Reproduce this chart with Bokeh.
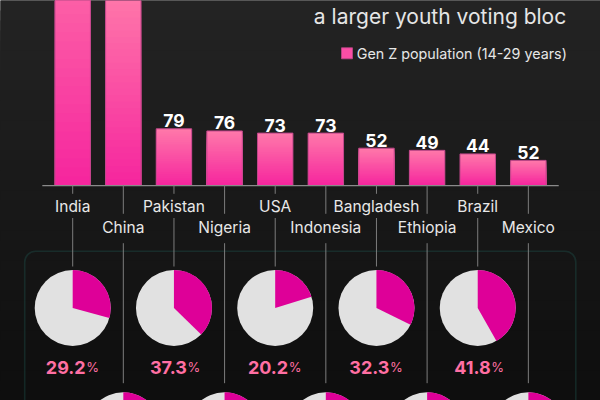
import numpy as np
from bokeh.plotting import figure
from bokeh.models import Range1d, BoxAnnotation
from bokeh.core.properties import value
from bokeh.embed import file_html
from bokeh.resources import INLINE

# ---------------- data ----------------
countries = ["India", "China", "Pakistan", "Nigeria", "USA", "Indonesia",
             "Bangladesh", "Ethiopia", "Brazil", "Mexico"]
genz_millions = [377, 270, 79, 76, 73, 73, 52, 49, 44, 35]
value_labels = ["377", "270", "79", "76", "73", "73", "52", "49", "44", "52"]
genz_share_pct = [29.2, 17.6, 37.3, 33.5, 20.2, 26.5, 32.3, 30.0, 41.8, 27.0]
legend_label = "Gen Z population (14-29 years)"
title_line = "a larger youth voting bloc"

# ---------------- styling ----------------
FONT = "Inter"
W, H = 600, 400
BAR_TOP = (255, 120, 170)
BAR_BOT = (246, 36, 158)
PIE_GREY = "#e1e1e1"
PIE_MAG = "#de0098"
PCT_COL = "#ff6fa3"
TXT_COL = "#e8e8e8"
LINE_COL = "#7c7c7c"

n = len(countries)
idx = np.arange(n)
Y_TOP = 257.7

p = figure(width=W, height=H, output_backend="svg", toolbar_location=None,
           x_range=Range1d(-1.426, 10.425), y_range=Range1d(-299.4, Y_TOP),
           x_axis_location=None, y_axis_location=None, min_border=0,
           outline_line_color=None, background_fill_color="#1a1a1a",
           border_fill_color="#1a1a1a")
p.grid.visible = False
# reference-pixel helper ranges (for layout only)
p.extra_x_ranges = {"px": Range1d(0, 600)}
p.extra_y_ranges = {"py": Range1d(400, 0)}

# background vertical gradient
NB = 40
ys = np.linspace(0, 400, NB + 1)
c_top = np.array([36, 36, 36]); c_bot = np.array([14, 14, 14])
for k in range(NB):
    t = k / (NB - 1)
    c = (c_top * (1 - t) + c_bot * t).astype(int)
    r = p.quad(left=[-10], right=[610], top=[ys[k] - (10 if k == 0 else 0)], bottom=[420],
               fill_color="#%02x%02x%02x" % tuple(c), line_color=None,
               x_range_name="px", y_range_name="py")
    r.level = "image"

# rounded panel
box = BoxAnnotation(left=24.2, right=575.3, top=250.7, bottom=470,
                    x_range_name="px", y_range_name="py",
                    fill_alpha=0, line_color="#22655e", line_width=1.6,
                    border_radius=11, level="underlay")
p.add_layout(box)

# gradient bars (stacked from full height down)
NS = 30
vals = np.array(genz_millions, dtype=float)
for j in range(NS):
    f = 1 - j / NS
    c = tuple(int(BAR_BOT[q] * (1 - f) + BAR_TOP[q] * f) for q in range(3))
    p.vbar(x=idx, top=vals * f, bottom=0, width=0.7,
           fill_color="#%02x%02x%02x" % c, line_color=None)
p.vbar(x=idx, top=vals, bottom=0, width=0.7, fill_alpha=0,
       line_color="#c0468a", line_width=1)

# baseline axis
p.segment(x0=[-0.6], x1=[9.6], y0=[0], y1=[0], line_color="#8a8a8a", line_width=1.2)

# value labels (only those whose bar ends inside the view)
vis = vals < Y_TOP - 30
p.text(x=idx[vis], y=vals[vis], text=[value_labels[i] for i in idx[vis]],
       text_align="center", text_baseline="alphabetic", y_offset=-8,
       text_color="#ffffff", text_font=value(FONT), text_font_style="bold",
       text_font_size="17.5px")

# leader lines & country labels
row = idx % 2
top_y = 185.0
tick_end = np.where(row == 0, 193.3, 213.3)
lab_y = np.where(row == 0, 205.5, 226.8)
lead_start = np.where(row == 0, 217.5, 242.7)
lead_end = np.where(row == 0, 266.0, 382.7)
pie_y = np.where(row == 0, 307.5, 429.8)

p.segment(x0=idx, x1=idx, y0=np.full(n, top_y), y1=tick_end,
          line_color=LINE_COL, line_width=1, y_range_name="py")
p.segment(x0=idx, x1=idx, y0=lead_start, y1=lead_end,
          line_color=LINE_COL, line_width=1, y_range_name="py")
p.text(x=idx, y=lab_y, text=countries, text_align="center",
       text_baseline="middle", text_color=TXT_COL, text_font=value(FONT),
       text_font_size="15.5px", y_range_name="py")

# pies
share = np.array(genz_share_pct) / 100.0
p.scatter(x=idx, y=pie_y, size=76, marker="circle", fill_color=PIE_GREY,
          line_color=None, y_range_name="py")
p.wedge(x=idx, y=pie_y, radius=38, radius_units="screen",
        start_angle=np.pi / 2, end_angle=np.pi / 2 - 2 * np.pi * share,
        direction="clock", fill_color=PIE_MAG, line_color=None,
        y_range_name="py")

# percentage labels (first-row pies are the ones in view)
r0 = idx[row == 0]
pct_txt = ["%.1f" % genz_share_pct[i] for i in r0]
pct_y = np.full(len(r0), 366.7)
p.text(x=r0, y=pct_y, text=pct_txt, text_align="right",
       text_baseline="alphabetic", x_offset=13, text_color=PCT_COL,
       text_font=value(FONT), text_font_style="bold", text_font_size="18px",
       y_range_name="py")
p.text(x=r0, y=pct_y, text=["%"] * len(r0), text_align="left",
       text_baseline="alphabetic", x_offset=13.5, text_color=PCT_COL,
       text_font=value(FONT), text_font_size="13px", y_range_name="py")

# title (visible last line) and legend
p.text(x=[565.7], y=[16.3], text=[title_line], text_align="right",
       text_baseline="alphabetic", text_color="#e6e6e6", text_font=value(FONT),
       text_font_size="21px", x_range_name="px", y_range_name="py")
p.scatter(x=[346.5], y=[52.8], size=11, marker="square", fill_color="#fb4ea6",
          line_color="#c0468a", line_width=0.8, x_range_name="px", y_range_name="py")
p.text(x=[356.3], y=[52.8], text=[legend_label], text_align="left",
       text_baseline="middle", text_color="#e6e6e6", text_font=value(FONT),
       text_font_size="14.3px", x_range_name="px", y_range_name="py")

open("out.html", "w").write(file_html(p, INLINE))
